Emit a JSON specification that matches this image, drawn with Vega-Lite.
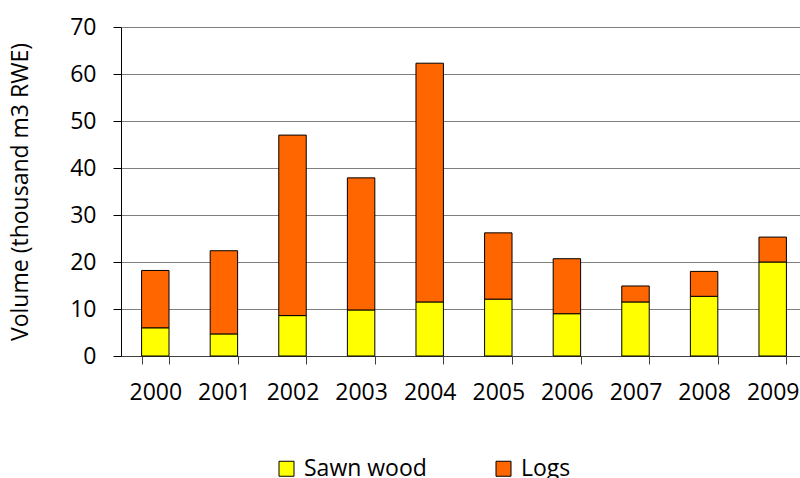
{
  "$schema": "https://vega.github.io/schema/vega-lite/v6.json",
  "width": 679,
  "height": 329,
  "autosize": {"type": "none"},
  "padding": {"left": 121, "top": 27, "right": 0, "bottom": 122},
  "background": "white",
  "config": {
    "view": {"stroke": null},
    "font": "Open Sans"
  },
  "data": {
    "values": [
      {"year": "2000", "type": "Sawn wood", "value": 6.0},
      {"year": "2000", "type": "Logs", "value": 12.2},
      {"year": "2001", "type": "Sawn wood", "value": 4.7},
      {"year": "2001", "type": "Logs", "value": 17.7},
      {"year": "2002", "type": "Sawn wood", "value": 8.6},
      {"year": "2002", "type": "Logs", "value": 38.4},
      {"year": "2003", "type": "Sawn wood", "value": 9.8},
      {"year": "2003", "type": "Logs", "value": 28.1},
      {"year": "2004", "type": "Sawn wood", "value": 11.5},
      {"year": "2004", "type": "Logs", "value": 50.8},
      {"year": "2005", "type": "Sawn wood", "value": 12.1},
      {"year": "2005", "type": "Logs", "value": 14.1},
      {"year": "2006", "type": "Sawn wood", "value": 9.0},
      {"year": "2006", "type": "Logs", "value": 11.7},
      {"year": "2007", "type": "Sawn wood", "value": 11.5},
      {"year": "2007", "type": "Logs", "value": 3.4},
      {"year": "2008", "type": "Sawn wood", "value": 12.7},
      {"year": "2008", "type": "Logs", "value": 5.3},
      {"year": "2009", "type": "Sawn wood", "value": 20.0},
      {"year": "2009", "type": "Logs", "value": 5.3}
    ]
  },
  "mark": {"type": "bar", "stroke": "black", "strokeWidth": 1},
  "encoding": {
    "x": {
      "field": "year",
      "type": "nominal",
      "scale": {"range": [0, 686], "paddingInner": 0.6, "paddingOuter": 0.3},
      "axis": {
        "title": null,
        "labelAngle": 0,
        "labelFontSize": 23,
        "labelColor": "black",
        "labelPadding": 17,
        "tickSize": 8,
        "tickBand": "extent",
        "tickColor": "#404040",
        "domainColor": "#404040",
        "grid": false
      }
    },
    "y": {
      "field": "value",
      "type": "quantitative",
      "stack": "zero",
      "scale": {"domain": [0, 70], "nice": false},
      "axis": {
        "title": "Volume (thousand m3 RWE)",
        "titleFontSize": 23,
        "titleFontWeight": "normal",
        "titleColor": "black",
        "titlePadding": 37,
        "values": [0, 10, 20, 30, 40, 50, 60, 70],
        "labelFontSize": 23,
        "labelColor": "black",
        "labelPadding": 17,
        "tickSize": 8,
        "tickColor": "black",
        "domainColor": "black",
        "grid": true,
        "gridColor": "#7f7f7f",
        "gridWidth": 1
      }
    },
    "color": {
      "field": "type",
      "type": "nominal",
      "scale": {"domain": ["Sawn wood", "Logs"], "range": ["#FFFF00", "#FF6600"]},
      "legend": {
        "title": null,
        "orient": "none",
        "direction": "horizontal",
        "legendX": 154,
        "legendY": 430,
        "symbolType": "square",
        "symbolSize": 225,
        "symbolStrokeColor": "black",
        "symbolStrokeWidth": 1,
        "symbolOpacity": 1,
        "labelFontSize": 23,
        "labelColor": "black",
        "labelOffset": 6,
        "columnPadding": 65,
        "labelLimit": 300
      }
    },
    "order": {"field": "type", "sort": "descending"}
  }
}
